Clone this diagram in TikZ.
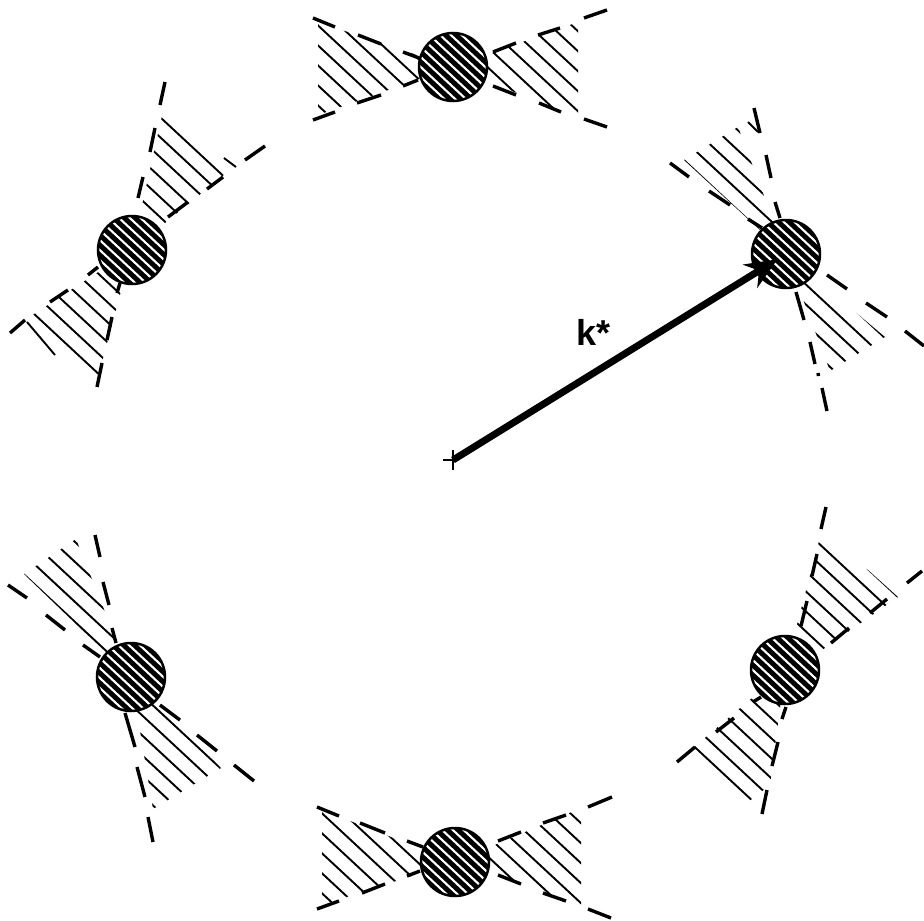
\documentclass[tikz,border=0pt]{standalone}
\usepackage{fontspec}
\setmainfont{Liberation Sans}
\usetikzlibrary{arrows.meta}
\tikzset{
  hatchline/.style={line width=1.9pt,black},
  dashseg/.style={line width=3.4pt,black},
  disc/.style={circle,draw=black,fill=black,line width=2.5pt,minimum size=68pt,inner sep=0pt,
    path picture={
      \begin{scope}[shift={(path picture bounding box.center)}]
      \foreach \dd in {-70,-60,...,70}{
        \draw[white,line width=2.1pt] (-50,{\dd-46.5}) -- (50,{\dd+46.5});
      }
      \end{scope}
    }},
  kvec/.style={line width=7pt,black,shorten >=10pt,-{Stealth[length=32pt,width=27pt]}},
  crossmark/.style={line width=2.4pt,black},
  klabel/.style={font=\bfseries\fontsize{36}{40}\selectfont,anchor=base west,inner sep=0pt}
}
% polygon, centre x, centre y, offset of one hatch line
\newcommand{\lobe}[4]{%
  \begin{scope}
    \clip #1 -- cycle;
    \foreach \kk in {-12,...,12}{
      \pgfmathsetmacro{\dv}{#4+20*\kk}
      \draw[hatchline] ({#2-300},{#3+\dv-279}) -- ({#2+300},{#3+\dv+279});
    }
  \end{scope}}
\begin{document}
\begin{tikzpicture}[x=1pt,y=-1pt]
\useasboundingbox (0,0) rectangle (924,921);
\fill[white] (0,0) rectangle (924,921);
% hatching
\lobe{(453,67)--(318,22)--(318,115)}{453}{67}{44}
\lobe{(453,67)--(578,22)--(578,118)}{453}{67}{-32}
\lobe{(455,862)--(322,810)--(322,905)}{455}{862}{35}
\lobe{(455,862)--(581,808)--(581,905)}{455}{862}{-36}
\lobe{(786,254)--(684,160)--(738,127)}{786}{254}{1}
\lobe{(786,254)--(885,337)--(830,371)}{786}{254}{12}
\lobe{(131,677)--(24,574)--(76,539)}{131}{677}{-3}
\lobe{(131,677)--(221,768)--(153,809)}{131}{677}{8}
\lobe{(132,250)--(162,116)--(225,174)}{132}{250}{-159}
\lobe{(132,250)--(28,318)--(98,377)}{132}{250}{155}
\lobe{(785,670)--(819,541)--(868,570)--(898,597)--(822,650)}{785}{670}{-58}
\lobe{(785,670)--(693,748)--(748,802)--(770,785)}{785}{670}{61}
\draw[hatchline] (224,158) -- (236,167) (748,122) -- (758,132) (27,322) -- (55,355);
% discs
\node[disc] (top) at (453,67) {};
\node[disc] (bottom) at (455,862) {};
\node[disc] (ur) at (786,254) {};
\node[disc] (ll) at (131,677) {};
\node[disc] (ul) at (132,250) {};
\node[disc] (lr) at (785,670) {};
% dashed wedge edges
\draw[dashseg] (313,18)--(335,27) (358,35)--(381,44) (403,52)--(419,58)
  (313,120)--(335,112) (357,103)--(381,95) (403,86)--(418,80)
  (493,52)--(516,43) (538,35)--(560,28) (584,18)--(607,10)
  (493,86)--(516,95) (539,103)--(561,112) (584,119)--(607,127);
\draw[dashseg] (317,807)--(339,816) (360,823)--(385,833) (407,841)--(423,847)
  (317,909)--(339,901) (362,893)--(385,884) (407,876)--(420,871)
  (498,841)--(521,832) (543,823)--(566,815) (588,807)--(612,797)
  (498,875)--(521,884) (543,893)--(566,901) (588,909)--(611,918);
\draw[dashseg] (670,163)--(689,177) (709,191)--(730,205) (748,219)--(762,228)
  (754,108)--(760,133) (766,155)--(771,178) (775,202)--(780,218)
  (827,275)--(847,289) (866,303)--(887,317) (905,331)--(924,346)
  (796,292)--(804,320) (810,342)--(815,364) (818,373)--(818.5,376) (822,388)--(827,411);
\draw[dashseg] (8,585)--(27,598) (46,615)--(65,630) (83,645)--(100,657)
  (95,535)--(100,557) (103,582)--(109,605) (112,628)--(116,643)
  (160,705)--(180,720) (197,735)--(217,751) (234,765)--(254,781)
  (125,713)--(135,747) (137,767)--(145,797) (148,817)--(153,842);
\draw[dashseg] (165,82)--(160,105) (155,128)--(150,152) (143,177)--(138,198)
  (223,177)--(207,189) (188,202)--(168,217) (265,146)--(245,160)
  (98,267)--(88,275) (120,283)--(117,293) (68,290)--(50,302)
  (112,317)--(107,340) (25,320)--(10,333) (102,363)--(97,387);
\draw[dashseg] (826,507)--(821,529) (817,554)--(812,576) (807,601)--(801,626)
  (922,571)--(907,583) (887,599)--(870,613) (849,628)--(831,643)
  (753,702)--(761,697) (786,707)--(782,719) (734,718)--(716,732)
  (778,742)--(772,766) (695,747)--(677,762) (767,790)--(762,814);
% centre mark and vector
\coordinate (origin) at (453,460);
\coordinate (crossW) at (443,460);
\coordinate (crossE) at (456,460);
\coordinate (crossN) at (453,450);
\coordinate (crossS) at (453,470);
\draw[crossmark] (crossW) -- (crossE) (crossN) -- (crossS);
\draw[kvec] (origin) -- (ur.center);
\node[klabel] (klab) at (576,345) {k*};
\end{tikzpicture}
\end{document}
